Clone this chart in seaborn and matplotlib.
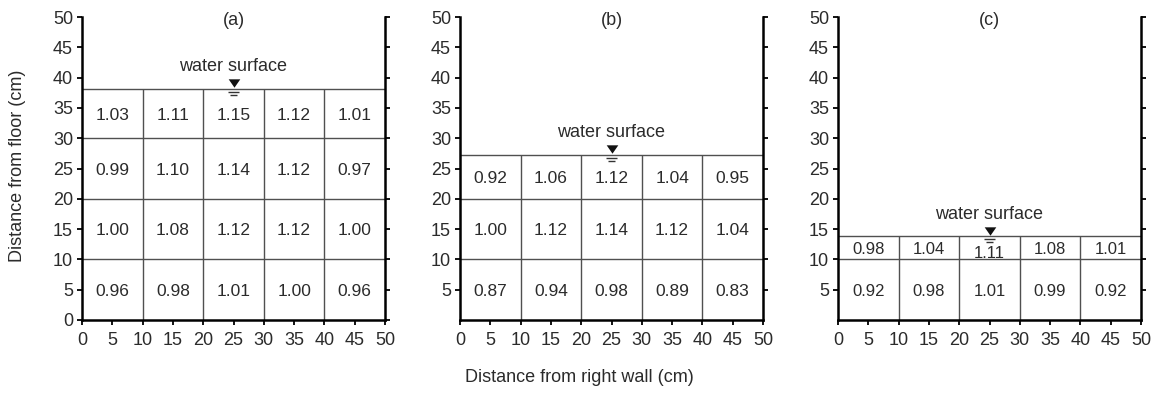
import numpy as np
import pandas as pd
import matplotlib
matplotlib.use("Agg")
import matplotlib.pyplot as plt
import seaborn as sns

# ---------------- data ----------------
panel_labels = ["(a)", "(b)", "(c)"]
water_levels = [38.2, 27.3, 13.8]
x_edges = [0, 10, 20, 30, 40, 50]
row_edges_a = [0, 10, 20, 30]
row_edges_b = [0, 10, 20]
row_edges_c = [0, 10]
values_a = [[0.96, 0.98, 1.01, 1.00, 0.96],
            [1.00, 1.08, 1.12, 1.12, 1.00],
            [0.99, 1.10, 1.14, 1.12, 0.97],
            [1.03, 1.11, 1.15, 1.12, 1.01]]
values_b = [[0.87, 0.94, 0.98, 0.89, 0.83],
            [1.00, 1.12, 1.14, 1.12, 1.04],
            [0.92, 1.06, 1.12, 1.04, 0.95]]
values_c = [[0.92, 0.98, 1.01, 0.99, 0.92],
            [0.98, 1.04, 1.11, 1.08, 1.01]]
x_ticks = [0, 5, 10, 15, 20, 25, 30, 35, 40, 45, 50]
y_ticks_a = [0, 5, 10, 15, 20, 25, 30, 35, 40, 45, 50]
y_ticks_bc = [5, 10, 15, 20, 25, 30, 35, 40, 45, 50]
surface_label = "water surface"
x_label = "Distance from right wall (cm)"
y_label = "Distance from floor (cm)"

# ---------------- style ----------------
sns.set_theme(style="ticks")
plt.rcParams["font.family"] = ["Liberation Sans", "DejaVu Sans"]
TXT = "#2b2b2b"
GRID = "#505050"

fig = plt.figure(figsize=(11.58, 3.96), dpi=100)
lefts = [82 / 1158, 460 / 1158, 838 / 1158]
bottom = 1 - 320 / 396
height = (320 - 17) / 396
width = 303 / 1158

panels = [(values_a, row_edges_a, y_ticks_a, 12.5),
          (values_b, row_edges_b, y_ticks_bc, 12.5),
          (values_c, row_edges_c, y_ticks_bc, 12)]

for i, (vals, edges, yt, fs) in enumerate(panels):
    ax = fig.add_axes([lefts[i], bottom, width, height])
    level = water_levels[i]
    ax.set_xlim(0, 50)
    ax.set_ylim(0, 50)

    # grid of cells
    tops = edges[1:] + [level]
    for e in edges[1:]:
        ax.hlines(e, 0, 50, color=GRID, lw=1.0, zorder=1)
    ax.hlines(level, 0, 50, color=GRID, lw=1.0, zorder=1)
    ax.vlines(x_edges[1:-1], 0, level, color=GRID, lw=1.0, zorder=1)

    # cell values
    rows = []
    for r, row in enumerate(vals):
        for c, v in enumerate(row):
            rows.append(dict(x=(x_edges[c] + x_edges[c + 1]) / 2,
                             y=(edges[r] + tops[r]) / 2, v=v,
                             shallow=(tops[r] - edges[r]) < 5 and c == 2))
    df = pd.DataFrame(rows)
    for _, rr in df.iterrows():
        yy = rr.y - (0.9 if rr.shallow else 0.3)
        ax.text(rr.x, yy, f"{rr.v:.2f}", ha="center", va="center",
                fontsize=fs, color=TXT, zorder=3)

    # water surface symbol
    tri = [(-1, 0.72), (1, 0.72), (0, -0.72)]
    sns.scatterplot(x=[25], y=[level + 0.95], marker=tri, s=70, color="#111111",
                    linewidth=0, ax=ax, zorder=4, legend=False)
    ax.hlines(level - 0.5, 24.1, 25.9, color="#333333", lw=1.0, zorder=4)
    ax.hlines(level - 1.0, 24.45, 25.55, color="#333333", lw=1.0, zorder=4)
    ax.text(25, level + 3.6, surface_label, ha="center", va="center",
            fontsize=13, color=TXT, zorder=4)

    # panel label
    ax.text(25, 49.4, panel_labels[i], ha="center", va="center",
            fontsize=13, color=TXT, clip_on=False)

    # axes styling
    ax.set_xticks(x_ticks)
    ax.set_yticks(yt)
    ax.tick_params(axis="both", which="both", direction="out", length=3.5,
                   width=1.3, color="black", labelsize=13, labelcolor=TXT)
    ax.tick_params(axis="x", pad=5)
    ax.tick_params(axis="y", pad=3, right=True, labelright=False)
    ax.spines["top"].set_visible(False)
    for s in ["left", "right", "bottom"]:
        ax.spines[s].set_linewidth(1.8)
        ax.spines[s].set_color("black")
    ax.set_xlabel("")
    ax.set_ylabel("")
    ax.set_facecolor("white")

fig.text(0.5, 1 - 378 / 396, x_label, ha="center", va="center",
         fontsize=13, color=TXT)
fig.text(18 / 1158, 1 - 166 / 396, y_label, ha="center", va="center",
         rotation=90, fontsize=13, color=TXT)

fig.savefig("out.png", dpi=100, facecolor="white")
